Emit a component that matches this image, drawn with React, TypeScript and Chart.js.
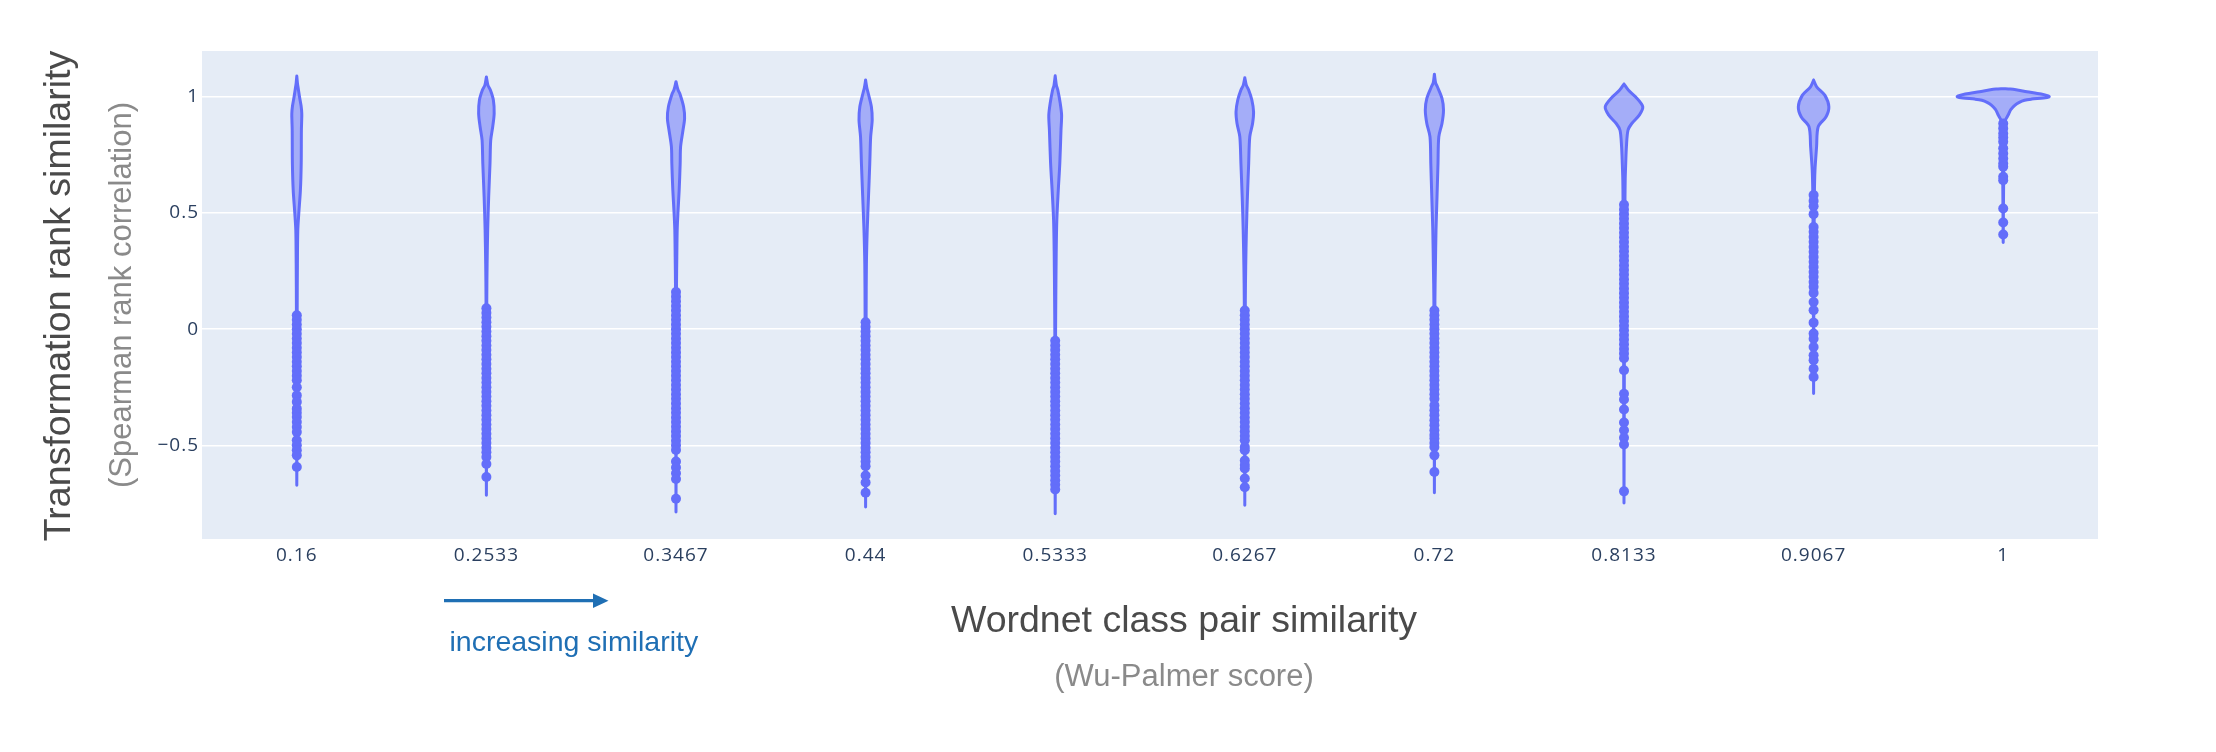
import React, { useEffect, useRef } from 'react';
import { Chart, registerables } from 'chart.js';

Chart.register(...registerables);

// ---------- data ----------
const CATEGORIES = ['0.16', '0.2533', '0.3467', '0.44', '0.5333', '0.6267', '0.72', '0.8133', '0.9067', '1'];
const Y_TICKS = [-0.5, 0, 0.5, 1];
const Y_MIN = -0.903;
const Y_MAX = 1.197;

const X_TITLE = 'Wordnet class pair similarity';
const X_SUBTITLE = '(Wu-Palmer score)';
const Y_TITLE = 'Transformation rank similarity';
const Y_SUBTITLE = '(Spearman rank correlation)';
const ARROW_TEXT = 'increasing similarity';

// kernel density profiles: [correlation value, relative half-width]
const DENSITY_016: [number, number][] = [
  [1.089, 0], [1.06, 0.013], [1.043, 0.025], [1.0, 0.057], [0.96, 0.091], [0.928, 0.105], [0.9, 0.103],
  [0.856, 0.097], [0.713, 0.093], [0.598, 0.076], [0.498, 0.042], [0.426, 0.021], [0.28, 0.013],
  [0.08, 0.008], [-0.3, 0.006], [-0.672, 0],
];
const DENSITY_02533: [number, number][] = [
  [1.085, 0], [1.05, 0.032], [1.029, 0.084], [0.986, 0.147], [0.928, 0.164], [0.871, 0.133], [0.813, 0.091],
  [0.713, 0.076], [0.569, 0.048], [0.426, 0.027], [0.28, 0.015], [0.124, 0.008], [-0.3, 0.006], [-0.715, 0],
];
const DENSITY_03467: [number, number][] = [
  [1.065, 0], [1.03, 0.042], [1.014, 0.08], [0.957, 0.16], [0.907, 0.181], [0.856, 0.147], [0.785, 0.097],
  [0.713, 0.088], [0.598, 0.067], [0.498, 0.04], [0.426, 0.025], [0.31, 0.017], [0.196, 0.011],
  [-0.3, 0.006], [-0.787, 0],
];
const DENSITY_044: [number, number][] = [
  [1.072, 0], [1.04, 0.025], [1.014, 0.057], [0.957, 0.122], [0.9, 0.139], [0.828, 0.107], [0.713, 0.088],
  [0.569, 0.061], [0.426, 0.034], [0.28, 0.017], [0.067, 0.011], [-0.3, 0.006], [-0.765, 0],
];
const DENSITY_05333: [number, number][] = [
  [1.09, 0], [1.05, 0.025], [1.029, 0.055], [0.971, 0.107], [0.921, 0.135], [0.856, 0.122], [0.713, 0.097],
  [0.598, 0.065], [0.469, 0.034], [0.325, 0.021], [0.139, 0.013], [-0.02, 0.008], [-0.4, 0.006], [-0.794, 0],
];
const DENSITY_06267: [number, number][] = [
  [1.082, 0], [1.05, 0.032], [1.029, 0.082], [0.986, 0.149], [0.935, 0.185], [0.885, 0.164], [0.828, 0.105],
  [0.713, 0.082], [0.569, 0.055], [0.426, 0.034], [0.268, 0.019], [0.124, 0.011], [-0.3, 0.006], [-0.758, 0],
];
const DENSITY_072: [number, number][] = [
  [1.097, 0], [1.06, 0.025], [1.043, 0.063], [0.993, 0.16], [0.943, 0.192], [0.885, 0.16], [0.828, 0.093],
  [0.713, 0.076], [0.569, 0.055], [0.426, 0.034], [0.268, 0.021], [0.124, 0.011], [-0.3, 0.006], [-0.704, 0],
];
const DENSITY_08133: [number, number][] = [
  [1.055, 0], [1.029, 0.091], [1.0, 0.242], [0.957, 0.396], [0.921, 0.322], [0.885, 0.164], [0.856, 0.084],
  [0.785, 0.051], [0.713, 0.036], [0.641, 0.025], [0.562, 0.021], [0.2, 0.011], [-0.3, 0.006], [-0.748, 0],
];
const DENSITY_09067: [number, number][] = [
  [1.072, 0], [1.043, 0.065], [1.007, 0.236], [0.957, 0.322], [0.914, 0.263], [0.871, 0.097], [0.785, 0.063],
  [0.684, 0.029], [0.584, 0.017], [0.3, 0.008], [-0.277, 0],
];
const DENSITY_1: [number, number][] = [
  [1.035, 0], [1.033, 0.15], [1.03, 0.27], [1.022, 0.5], [1.012, 0.8], [1.004, 0.95], [1.0, 0.97],
  [0.995, 0.85], [0.99, 0.6], [0.985, 0.45], [0.975, 0.33], [0.964, 0.25], [0.945, 0.16], [0.928, 0.12],
  [0.914, 0.085], [0.9, 0.05], [0.85, 0.025], [0.75, 0.015], [0.6, 0.008], [0.373, 0],
];

// outlier points drawn on each violin
const OUTLIERS_016 = [
  0.06, 0.04, 0.02, 0, -0.02, -0.04, -0.06, -0.08, -0.1, -0.12, -0.14, -0.16, -0.18, -0.2, -0.22, -0.25,
  -0.285, -0.313, -0.342, -0.36, -0.378, -0.4, -0.421, -0.443, -0.478, -0.5, -0.521, -0.543, -0.593,
];
const OUTLIERS_02533 = [
  0.09, 0.07, 0.05, 0.03, 0.01, -0.01, -0.03, -0.05, -0.07, -0.09, -0.11, -0.13, -0.15, -0.17, -0.19, -0.21,
  -0.23, -0.25, -0.27, -0.29, -0.31, -0.33, -0.35, -0.37, -0.39, -0.41, -0.43, -0.45, -0.47, -0.49, -0.51,
  -0.53, -0.55, -0.58, -0.636,
];
const OUTLIERS_03467 = [
  0.16, 0.14, 0.12, 0.1, 0.08, 0.06, 0.04, 0.02, 0, -0.02, -0.04, -0.06, -0.08, -0.1, -0.12, -0.14, -0.16,
  -0.18, -0.2, -0.22, -0.24, -0.26, -0.28, -0.3, -0.32, -0.34, -0.36, -0.38, -0.4, -0.42, -0.44, -0.46,
  -0.48, -0.5, -0.52, -0.57, -0.595, -0.62, -0.645, -0.73,
];
const OUTLIERS_044 = [
  0.03, 0.01, -0.01, -0.03, -0.05, -0.07, -0.09, -0.11, -0.13, -0.15, -0.17, -0.19, -0.21, -0.23, -0.25,
  -0.27, -0.29, -0.31, -0.33, -0.35, -0.37, -0.39, -0.41, -0.43, -0.45, -0.47, -0.49, -0.51, -0.53, -0.55,
  -0.57, -0.59, -0.63, -0.66, -0.704,
];
const OUTLIERS_05333 = [
  -0.05, -0.07, -0.09, -0.11, -0.13, -0.15, -0.17, -0.19, -0.21, -0.23, -0.25, -0.27, -0.29, -0.31, -0.33,
  -0.35, -0.37, -0.39, -0.41, -0.43, -0.45, -0.47, -0.49, -0.51, -0.53, -0.55, -0.57, -0.59, -0.61, -0.63,
  -0.65, -0.67, -0.69,
];
const OUTLIERS_06267 = [
  0.08, 0.06, 0.04, 0.02, 0, -0.02, -0.04, -0.06, -0.08, -0.1, -0.12, -0.14, -0.16, -0.18, -0.2, -0.22,
  -0.24, -0.26, -0.28, -0.3, -0.32, -0.34, -0.36, -0.38, -0.4, -0.42, -0.44, -0.46, -0.478, -0.507, -0.521,
  -0.565, -0.585, -0.6, -0.643, -0.68,
];
const OUTLIERS_072 = [
  0.08, 0.06, 0.04, 0.02, 0, -0.02, -0.04, -0.06, -0.08, -0.1, -0.12, -0.14, -0.16, -0.18, -0.2, -0.22,
  -0.24, -0.26, -0.28, -0.3, -0.328, -0.349, -0.37, -0.392, -0.413, -0.435, -0.455, -0.471, -0.49, -0.507,
  -0.543, -0.615,
];
const OUTLIERS_08133 = [
  0.535, 0.515, 0.495, 0.475, 0.455, 0.435, 0.415, 0.395, 0.375, 0.355, 0.335, 0.315, 0.295, 0.275, 0.255,
  0.235, 0.215, 0.195, 0.175, 0.155, 0.135, 0.115, 0.095, 0.075, 0.055, 0.035, 0.015, -0.005, -0.025,
  -0.045, -0.065, -0.085, -0.105, -0.125, -0.177, -0.278, -0.303, -0.346, -0.402, -0.435, -0.467, -0.496,
  -0.698,
];
const OUTLIERS_09067 = [
  0.577, 0.552, 0.529, 0.495, 0.44, 0.419, 0.397, 0.376, 0.354, 0.333, 0.311, 0.29, 0.268, 0.246, 0.225,
  0.203, 0.182, 0.156, 0.117, 0.081, 0.028, -0.019, -0.041, -0.077, -0.112, -0.134, -0.17, -0.206,
];
const OUTLIERS_1 = [
  0.885, 0.864, 0.842, 0.825, 0.806, 0.778, 0.756, 0.734, 0.713, 0.699, 0.656, 0.641, 0.519, 0.459, 0.407,
];

const DENSITIES = [
  DENSITY_016, DENSITY_02533, DENSITY_03467, DENSITY_044, DENSITY_05333,
  DENSITY_06267, DENSITY_072, DENSITY_08133, DENSITY_09067, DENSITY_1,
];
const OUTLIERS = [
  OUTLIERS_016, OUTLIERS_02533, OUTLIERS_03467, OUTLIERS_044, OUTLIERS_05333,
  OUTLIERS_06267, OUTLIERS_072, OUTLIERS_08133, OUTLIERS_09067, OUTLIERS_1,
];

// ---------- styling ----------
const VIOLIN_HALF_WIDTH = 0.25; // category units for relative width 1
const LINE_COLOR = '#636efa';
const FILL_COLOR = 'rgba(99,110,250,0.5)';
const PLOT_BG = '#E5ECF6';
const TICK_COLOR = '#2a3f5f';
const TITLE_COLOR = '#4a4a4a';
const SUBTITLE_COLOR = '#8a8a8a';
const ARROW_COLOR = '#1f6fb4';
const TEXT_FONT = '"Liberation Sans", Arial, Helvetica, sans-serif';

function outline(i: number, density: [number, number][]) {
  const left = density.map(([y, w]) => ({ x: i - w * VIOLIN_HALF_WIDTH, y }));
  const right = density
    .slice()
    .reverse()
    .map(([y, w]) => ({ x: i + w * VIOLIN_HALF_WIDTH, y }));
  return [...left, ...right];
}

const plotBgPlugin = {
  id: 'plotBg',
  beforeDraw(chart: any) {
    const { ctx, chartArea: a } = chart;
    ctx.save();
    ctx.fillStyle = PLOT_BG;
    ctx.fillRect(a.left, a.top, a.right - a.left, a.bottom - a.top);
    ctx.restore();
    try {
      (ctx as any).letterSpacing = '1px';
    } catch (e) {}
  },
};

const annotationPlugin = {
  id: 'annotations',
  afterDraw(chart: any) {
    const { ctx, chartArea: a } = chart;
    ctx.save();
    try {
      (ctx as any).letterSpacing = '0px';
    } catch (e) {}
    const midY = (a.top + a.bottom) / 2;

    // x axis title + subtitle
    ctx.textAlign = 'center';
    ctx.textBaseline = 'alphabetic';
    ctx.fillStyle = TITLE_COLOR;
    ctx.font = `37.5px ${TEXT_FONT}`;
    ctx.fillText(X_TITLE, 1184, 632);
    ctx.fillStyle = SUBTITLE_COLOR;
    ctx.font = `31px ${TEXT_FONT}`;
    ctx.fillText(X_SUBTITLE, 1184, 686);

    // y axis title + subtitle (rotated)
    ctx.save();
    ctx.translate(69.5, midY + 1);
    ctx.rotate(-Math.PI / 2);
    ctx.fillStyle = TITLE_COLOR;
    ctx.font = `37.5px ${TEXT_FONT}`;
    ctx.fillText(Y_TITLE, 0, 0);
    ctx.restore();
    ctx.save();
    ctx.translate(131, midY);
    ctx.rotate(-Math.PI / 2);
    ctx.fillStyle = SUBTITLE_COLOR;
    ctx.font = `31px ${TEXT_FONT}`;
    ctx.fillText(Y_SUBTITLE, 0, 0);
    ctx.restore();

    // arrow + label
    ctx.strokeStyle = ARROW_COLOR;
    ctx.fillStyle = ARROW_COLOR;
    ctx.lineWidth = 3.3;
    ctx.beginPath();
    ctx.moveTo(444, 600.7);
    ctx.lineTo(595, 600.7);
    ctx.stroke();
    ctx.beginPath();
    ctx.moveTo(593, 593.5);
    ctx.lineTo(608.5, 600.7);
    ctx.lineTo(593, 607.9);
    ctx.closePath();
    ctx.fill();
    ctx.textAlign = 'left';
    ctx.font = `28.5px ${TEXT_FONT}`;
    ctx.fillText(ARROW_TEXT, 449.5, 650.5);
    ctx.restore();
  },
};

export default function App() {
  const canvasRef = useRef<HTMLCanvasElement | null>(null);

  useEffect(() => {
    document.body.style.margin = '0';
    const canvas = canvasRef.current;
    if (!canvas) return;

    const violinDatasets = DENSITIES.map((d, i) => ({
      type: 'scatter' as const,
      data: outline(i, d),
      showLine: true,
      fill: 'shape',
      backgroundColor: FILL_COLOR,
      borderColor: LINE_COLOR,
      borderWidth: 3,
      borderJoinStyle: 'round' as const,
      borderCapStyle: 'round' as const,
      pointRadius: 0,
      pointHoverRadius: 0,
      tension: 0.3,
      order: 2,
    }));
    const pointDatasets = OUTLIERS.map((vals, i) => ({
      type: 'scatter' as const,
      data: vals.map((y) => ({ x: i, y })),
      showLine: false,
      pointRadius: 5,
      pointBackgroundColor: LINE_COLOR,
      pointBorderWidth: 0,
      pointBorderColor: LINE_COLOR,
      order: 1,
    }));

    const chart = new Chart(canvas, {
      type: 'scatter',
      data: { datasets: [...violinDatasets, ...pointDatasets] as any },
      plugins: [plotBgPlugin, annotationPlugin],
      options: {
        responsive: false,
        animation: false,
        devicePixelRatio: 1,
        layout: { padding: { left: 0, right: 118, top: 51, bottom: 0 } },
        plugins: {
          legend: { display: false },
          tooltip: { enabled: false },
        },
        scales: {
          x: {
            type: 'linear',
            min: -0.5,
            max: 9.5,
            afterBuildTicks: (s: any) => {
              s.ticks = CATEGORIES.map((_, i) => ({ value: i }));
            },
            afterFit: (s: any) => {
              s.height = 213;
            },
            grid: { display: false },
            border: { display: false },
            ticks: {
              autoSkip: false,
              maxRotation: 0,
              padding: -3,
              color: TICK_COLOR,
              font: { family: '"Open Sans", sans-serif', size: 19 },
              callback: (v: any) => CATEGORIES[Math.round(Number(v))] ?? '',
            },
          },
          y: {
            type: 'linear',
            min: Y_MIN,
            max: Y_MAX,
            afterBuildTicks: (s: any) => {
              s.ticks = Y_TICKS.map((v) => ({ value: v }));
            },
            afterFit: (s: any) => {
              s.width = 202;
            },
            grid: { color: '#ffffff', lineWidth: 1.5, drawTicks: false },
            border: { display: false },
            ticks: {
              padding: 3,
              color: TICK_COLOR,
              font: { family: '"Open Sans", sans-serif', size: 19 },
              callback: (v: any) => {
                const n = Number(v);
                return n < 0 ? '\u2212' + String(Math.abs(n)) : String(n);
              },
            },
          },
        },
      } as any,
    });

    return () => {
      chart.destroy();
    };
  }, []);

  return (
    <div style={{ width: 2216, height: 752 }}>
      <canvas ref={canvasRef} width={2216} height={752} style={{ display: 'block' }} />
    </div>
  );
}
